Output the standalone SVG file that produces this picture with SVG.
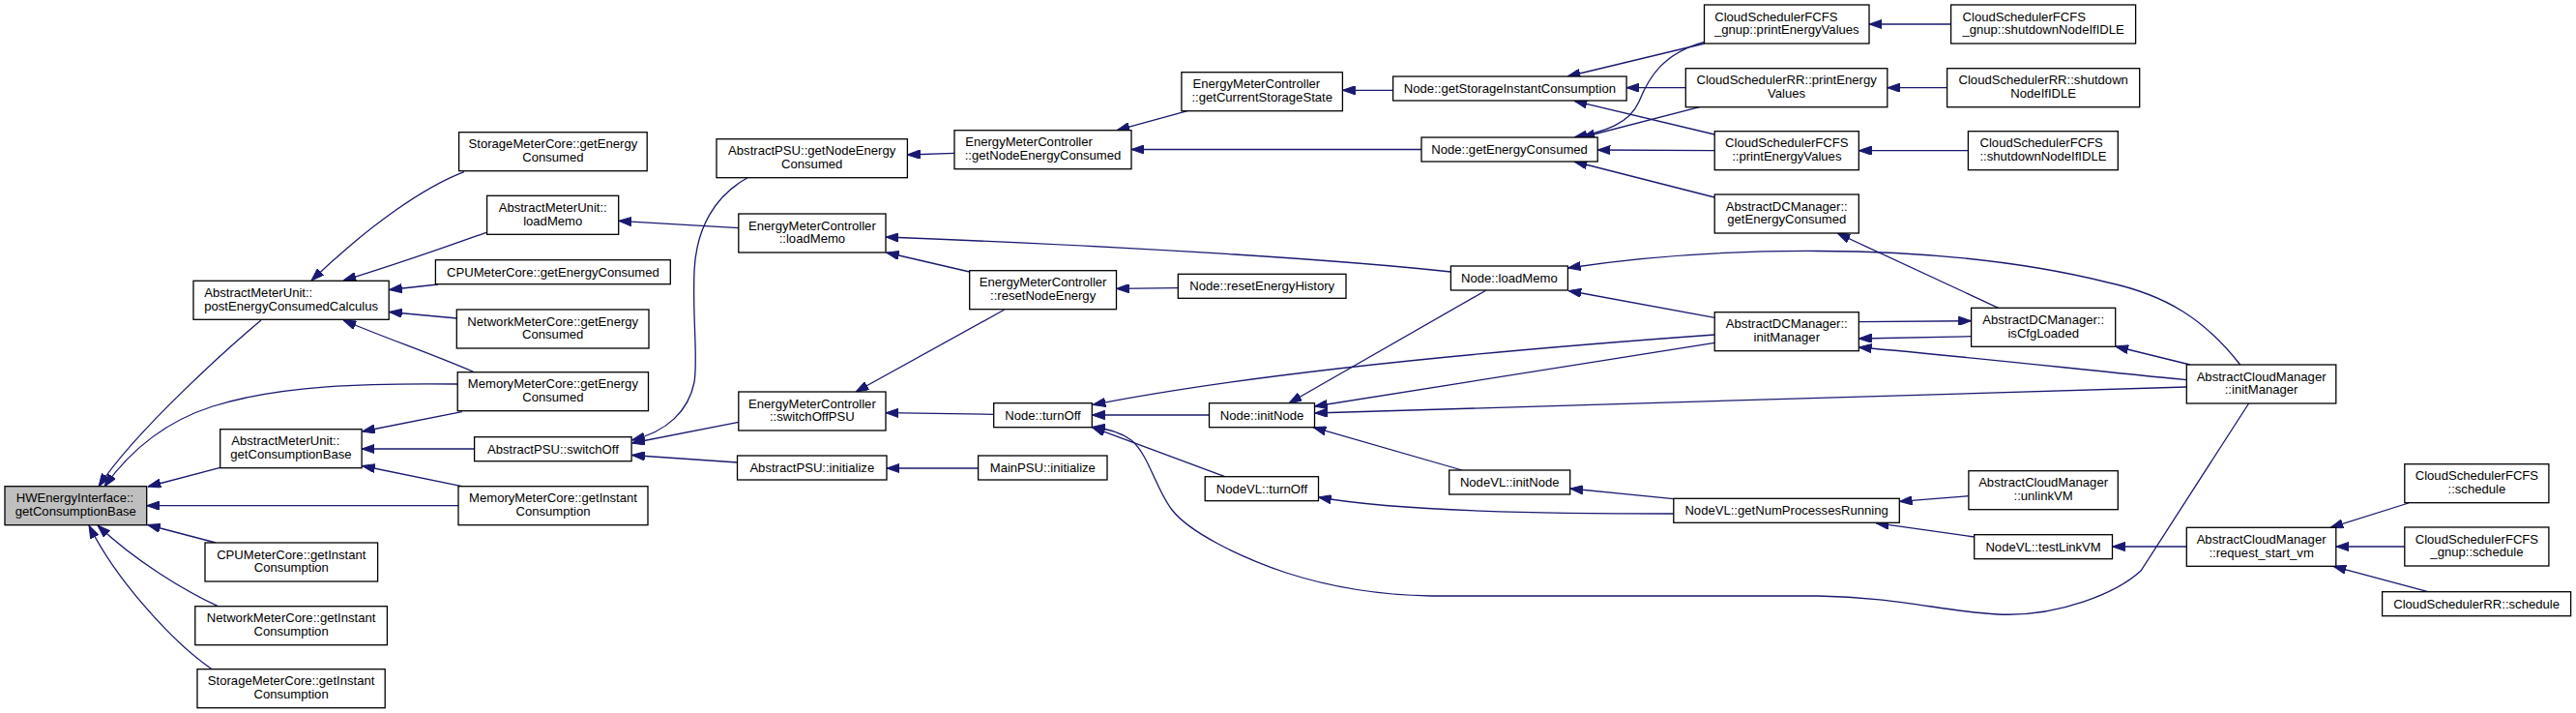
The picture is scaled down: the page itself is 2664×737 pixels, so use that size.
<svg xmlns="http://www.w3.org/2000/svg" width="2664" height="737" viewBox="0 0 2664 737">
<style>
.n rect{fill:#fff;stroke:#000;stroke-width:1.3}
.n text{font-family:"Liberation Sans",Arial,Helvetica,sans-serif;font-size:13.1px;fill:#000;text-anchor:middle}
.n text.l{text-anchor:start}
.g rect{fill:#bfbfbf}
.e path{fill:none;stroke:#191970;stroke-width:1.3;marker-end:url(#a)}
</style>
<defs>
<marker id="a" viewBox="0 0 13.3 9.3" refX="13.3" refY="4.65" markerWidth="13.3" markerHeight="9.3" markerUnits="userSpaceOnUse" orient="auto">
<path d="M0,0 L13.3,4.65 L0,9.3 z" fill="#191970" stroke="#191970" stroke-width="1"/>
</marker>
</defs>
<rect width="2664" height="737" fill="#fff"/>
<g id="edges" class="e">
<path d="M270,331 C240,356 140,445 102,503"/>
<path d="M473,397 C380,396 290,398 220,420 C170,436 135,465 108,503"/>
<path d="M227.7,483.3 L153,503"/>
<path d="M474,522.7 L151.7,522.7"/>
<path d="M223.2,561 L152.5,542.5"/>
<path d="M225.4,626.7 C190,610 140,580 101,543"/>
<path d="M218.8,691.5 C180,665 120,600 92,543"/>
<path d="M479.9,177.7 C440,193 385,230 322,290"/>
<path d="M503.1,240.3 C470,252 420,270 355,290"/>
<path d="M453,294 L402.5,299.5"/>
<path d="M472.3,329 L402.5,322.5"/>
<path d="M491,385 C450,367 400,350 355,331"/>
<path d="M477.7,425.7 L374.5,446"/>
<path d="M490.6,464 L374.1,464"/>
<path d="M477.7,502.7 L374.5,481.5"/>
<path d="M763.8,235.7 L639.7,228.3"/>
<path d="M772.8,184 C740,202 720,235 718,280 C716,330 722,370 718,395 C712,425 690,446 653.5,455"/>
<path d="M763.8,436.3 L653.5,458"/>
<path d="M762.5,478 L653.5,470.5"/>
<path d="M987,158.3 L938.4,160"/>
<path d="M1228.1,114.7 L1155,134.7"/>
<path d="M1470,154.5 L1170,154.5"/>
<path d="M1500.4,281 C1400,270 1200,256 916,245"/>
<path d="M1002.7,281 L916.5,261"/>
<path d="M1218.3,297.7 L1154.5,298.3"/>
<path d="M1038.4,320.3 L885,405"/>
<path d="M1027.7,428.3 L916,426.7"/>
<path d="M1011.6,484 L917,484"/>
<path d="M1440.6,93.3 L1388.4,93.3"/>
<path d="M1762.5,45 L1621,79"/>
<path d="M1743.3,90.7 L1682.1,90.7"/>
<path d="M1773.2,139 L1628,104.3"/>
<path d="M1762.5,43.3 C1720,55 1705,80 1695,105 C1685,128 1660,136 1628,142"/>
<path d="M1757.6,110.7 L1636,142"/>
<path d="M1773.2,155.7 L1652.2,155"/>
<path d="M1773.2,204 L1628,167"/>
<path d="M2017.6,25 L1933,25"/>
<path d="M2013.6,90.7 L1951.8,90.7"/>
<path d="M2035.4,155.7 L1922.3,155.7"/>
<path d="M2066.7,318.3 L1900,241"/>
<path d="M2316.7,377 C2280,330 2240,305 2180,292 C2100,272 2000,260 1880,259.5 C1780,259 1700,265 1621.4,277"/>
<path d="M1773.2,328.3 L1622,300.5"/>
<path d="M1536.6,300.3 L1333,416.7"/>
<path d="M1773.2,346 C1550,362 1300,385 1130,418.5"/>
<path d="M1250.5,429 L1129.3,429"/>
<path d="M1266.7,492.7 L1129.5,441.7"/>
<path d="M2325.6,417 L2214,590 C2190,612 2130,638 2066,635 C2010,632 1960,617 1880,616 L1480,616 C1420,615 1370,605 1330,592 C1280,575 1230,550 1212,527 C1195,505 1188,470 1170,455 C1158,446 1145,443 1129.5,441.5"/>
<path d="M1773.2,354.3 L1359.5,420"/>
<path d="M2261.3,400 L1359.5,427"/>
<path d="M1512,486 L1358,441.7"/>
<path d="M1730.8,515.7 L1623.7,505"/>
<path d="M1730.8,531 C1600,531 1450,529 1363.5,514"/>
<path d="M2035.9,512.7 L1964.3,518.3"/>
<path d="M2041.7,555 L1940,540.7"/>
<path d="M2261.3,565 L2184.5,565"/>
<path d="M2490.8,520 L2410,545.3"/>
<path d="M2486.8,565 L2415.8,565"/>
<path d="M2510.9,611.7 L2413,585.3"/>
<path d="M1922.3,332.7 L2038.6,331.7"/>
<path d="M2038.6,347.7 L1922.3,350"/>
<path d="M2261.3,392.7 C2150,382 2050,370 1922.3,359"/>
<path d="M2265,377 L2187.7,358"/>
</g>
<g id="n_hw" class="n g"><rect x="5" y="502.7" width="146.7" height="40"/><text class="l" x="16.7" y="519.2">HWEnergyInterface::</text><text x="78.3" y="533">getConsumptionBase</text></g>
<g id="n_post" class="n"><rect x="200" y="290.3" width="202.2" height="40"/><text class="l" x="211.2" y="306.8">AbstractMeterUnit::</text><text x="301.1" y="320.6">postEnergyConsumedCalculus</text></g>
<g id="n_amu_gcb" class="n"><rect x="227.7" y="443.7" width="146.4" height="40"/><text class="l" x="239.3" y="460.2">AbstractMeterUnit::</text><text x="300.9" y="474">getConsumptionBase</text></g>
<g id="n_cpu_gi" class="n"><rect x="212" y="561" width="178.6" height="40"/><text x="301.3" y="577.5">CPUMeterCore::getInstant</text><text x="301.3" y="591.3">Consumption</text></g>
<g id="n_net_gi" class="n"><rect x="201.8" y="626.7" width="198.6" height="40"/><text x="301.1" y="643.2">NetworkMeterCore::getInstant</text><text x="301.1" y="657">Consumption</text></g>
<g id="n_sto_gi" class="n"><rect x="204" y="691.7" width="194.2" height="40"/><text x="301.1" y="708.2">StorageMeterCore::getInstant</text><text x="301.1" y="722">Consumption</text></g>
<g id="n_sto_ge" class="n"><rect x="474.6" y="136.7" width="194.6" height="40"/><text x="571.9" y="153.2">StorageMeterCore::getEnergy</text><text x="571.9" y="167">Consumed</text></g>
<g id="n_amu_lm" class="n"><rect x="503.6" y="202.3" width="136.1" height="40"/><text x="571.7" y="218.8">AbstractMeterUnit::</text><text x="571.7" y="232.6">loadMemo</text></g>
<g id="n_cpu_ge" class="n"><rect x="450.4" y="268.7" width="242.9" height="25"/><text x="571.9" y="285.5">CPUMeterCore::getEnergyConsumed</text></g>
<g id="n_net_ge" class="n"><rect x="472.3" y="320" width="198.7" height="40"/><text x="571.7" y="336.5">NetworkMeterCore::getEnergy</text><text x="571.7" y="350.3">Consumed</text></g>
<g id="n_mem_ge" class="n"><rect x="473.2" y="384.7" width="197.3" height="40"/><text x="571.9" y="401.2">MemoryMeterCore::getEnergy</text><text x="571.9" y="415">Consumed</text></g>
<g id="n_psu_off" class="n"><rect x="490.6" y="451.7" width="162.5" height="25"/><text x="571.9" y="468.5">AbstractPSU::switchOff</text></g>
<g id="n_mem_gi" class="n"><rect x="474" y="502.7" width="196" height="40"/><text x="572" y="519.2">MemoryMeterCore::getInstant</text><text x="572" y="533">Consumption</text></g>
<g id="n_psu_gne" class="n"><rect x="741" y="143.7" width="197.4" height="40"/><text x="839.7" y="160.2">AbstractPSU::getNodeEnergy</text><text x="839.7" y="174">Consumed</text></g>
<g id="n_emc_lm" class="n"><rect x="763.8" y="221" width="152.2" height="40"/><text x="839.9" y="237.5">EnergyMeterController</text><text x="839.9" y="251.3">::loadMemo</text></g>
<g id="n_emc_off" class="n"><rect x="763.8" y="405" width="152.2" height="40"/><text x="839.9" y="421.5">EnergyMeterController</text><text x="839.9" y="435.3">::switchOffPSU</text></g>
<g id="n_psu_init" class="n"><rect x="762.5" y="471" width="154.5" height="25"/><text x="839.8" y="487.8">AbstractPSU::initialize</text></g>
<g id="n_emc_gne" class="n"><rect x="987" y="134.7" width="183" height="40"/><text class="l" x="998.2" y="151.2">EnergyMeterController</text><text x="1078.5" y="165">::getNodeEnergyConsumed</text></g>
<g id="n_emc_rne" class="n"><rect x="1002.7" y="279.7" width="151.8" height="40"/><text x="1078.6" y="296.2">EnergyMeterController</text><text x="1078.6" y="310">::resetNodeEnergy</text></g>
<g id="n_node_off" class="n"><rect x="1027.7" y="416.7" width="101.6" height="25"/><text x="1078.5" y="433.5">Node::turnOff</text></g>
<g id="n_mainpsu" class="n"><rect x="1011.6" y="471" width="133.4" height="25"/><text x="1078.3" y="487.8">MainPSU::initialize</text></g>
<g id="n_emc_gcss" class="n"><rect x="1221.9" y="74.7" width="166.5" height="40"/><text class="l" x="1233.5" y="91.2">EnergyMeterController</text><text x="1305.2" y="105">::getCurrentStorageState</text></g>
<g id="n_node_reh" class="n"><rect x="1218.3" y="283.3" width="173.7" height="25"/><text x="1305.2" y="300.1">Node::resetEnergyHistory</text></g>
<g id="n_node_init" class="n"><rect x="1250.5" y="416.7" width="109" height="25"/><text x="1305" y="433.5">Node::initNode</text></g>
<g id="n_nodevl_off" class="n"><rect x="1246.2" y="492.7" width="117.3" height="25"/><text x="1304.9" y="509.5">NodeVL::turnOff</text></g>
<g id="n_node_gsic" class="n"><rect x="1440.6" y="79" width="241.5" height="25"/><text x="1561.4" y="95.8">Node::getStorageInstantConsumption</text></g>
<g id="n_node_gec" class="n"><rect x="1470" y="142" width="182.2" height="25"/><text x="1561.1" y="158.8">Node::getEnergyConsumed</text></g>
<g id="n_node_lm" class="n"><rect x="1500.4" y="275" width="121" height="25"/><text x="1560.9" y="291.8">Node::loadMemo</text></g>
<g id="n_nodevl_init" class="n"><rect x="1498.7" y="486" width="125" height="25"/><text x="1561.2" y="502.8">NodeVL::initNode</text></g>
<g id="n_gnup_pev" class="n"><rect x="1762.5" y="5" width="170.5" height="40"/><text class="l" x="1773.2" y="21.5">CloudSchedulerFCFS</text><text x="1847.8" y="35.3">_gnup::printEnergyValues</text></g>
<g id="n_rr_pev" class="n"><rect x="1743.3" y="70.7" width="208.5" height="40"/><text x="1847.6" y="87.2">CloudSchedulerRR::printEnergy</text><text x="1847.6" y="101">Values</text></g>
<g id="n_fcfs_pev" class="n"><rect x="1773.2" y="135.7" width="149.1" height="40"/><text x="1847.8" y="152.2">CloudSchedulerFCFS</text><text x="1847.8" y="166">::printEnergyValues</text></g>
<g id="n_dc_gec" class="n"><rect x="1773.2" y="201" width="149.1" height="40"/><text x="1847.8" y="217.5">AbstractDCManager::</text><text x="1847.8" y="231.3">getEnergyConsumed</text></g>
<g id="n_dc_im" class="n"><rect x="1773.2" y="322.7" width="149.1" height="40"/><text x="1847.8" y="339.2">AbstractDCManager::</text><text x="1847.8" y="353">initManager</text></g>
<g id="n_nodevl_gnpr" class="n"><rect x="1730.8" y="515.3" width="233.5" height="25"/><text x="1847.6" y="532.1">NodeVL::getNumProcessesRunning</text></g>
<g id="n_gnup_sd" class="n"><rect x="2017.6" y="5" width="191" height="40"/><text class="l" x="2029.6" y="21.5">CloudSchedulerFCFS</text><text x="2113.1" y="35.3">_gnup::shutdownNodeIfIDLE</text></g>
<g id="n_rr_sd" class="n"><rect x="2013.6" y="70.7" width="199.1" height="40"/><text x="2113.2" y="87.2">CloudSchedulerRR::shutdown</text><text x="2113.2" y="101">NodeIfIDLE</text></g>
<g id="n_fcfs_sd" class="n"><rect x="2035.4" y="135.7" width="154.9" height="40"/><text class="l" x="2047.5" y="152.2">CloudSchedulerFCFS</text><text x="2112.9" y="166">::shutdownNodeIfIDLE</text></g>
<g id="n_dc_cfg" class="n"><rect x="2038.6" y="318.3" width="149.1" height="40"/><text x="2113.2" y="334.8">AbstractDCManager::</text><text x="2113.2" y="348.6">isCfgLoaded</text></g>
<g id="n_acm_unlink" class="n"><rect x="2035.9" y="486.7" width="154.4" height="40"/><text x="2113.1" y="503.2">AbstractCloudManager</text><text x="2113.1" y="517">::unlinkVM</text></g>
<g id="n_nodevl_tl" class="n"><rect x="2041.7" y="552.7" width="142.8" height="25"/><text x="2113.1" y="569.5">NodeVL::testLinkVM</text></g>
<g id="n_acm_im" class="n"><rect x="2261.3" y="377" width="154.5" height="40"/><text x="2338.6" y="393.5">AbstractCloudManager</text><text x="2338.6" y="407.3">::initManager</text></g>
<g id="n_acm_rsv" class="n"><rect x="2261.3" y="545.3" width="154.5" height="40"/><text x="2338.6" y="561.8">AbstractCloudManager</text><text x="2338.6" y="575.6">::request_start_vm</text></g>
<g id="n_fcfs_sch" class="n"><rect x="2486.8" y="479.7" width="149.1" height="40"/><text x="2561.4" y="496.2">CloudSchedulerFCFS</text><text x="2561.4" y="510">::schedule</text></g>
<g id="n_gnup_sch" class="n"><rect x="2486.8" y="545" width="149.1" height="40"/><text x="2561.4" y="561.5">CloudSchedulerFCFS</text><text x="2561.4" y="575.3">_gnup::schedule</text></g>
<g id="n_rr_sch" class="n"><rect x="2463.6" y="611.7" width="195" height="25"/><text x="2561.1" y="628.5">CloudSchedulerRR::schedule</text></g>
</svg>
